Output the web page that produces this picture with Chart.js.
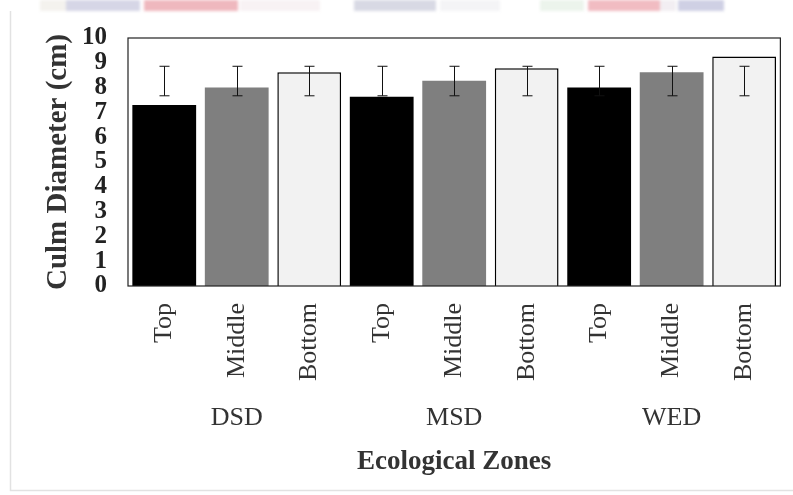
<!DOCTYPE html>
<html>
<head>
<meta charset="utf-8">
<script src="https://cdn.jsdelivr.net/npm/chart.js@4/dist/chart.umd.min.js"></script>
<style>
  html, body { margin: 0; padding: 0; background: #fff; }
  #wrap { position: relative; width: 793px; height: 495px; overflow: hidden; }
  #strip { position: absolute; left: 0; top: 0; width: 793px; height: 11px; filter: blur(1.5px); }
  #strip div { position: absolute; top: 0; height: 11px; }
  canvas { position: absolute; left: 0; top: 0; }
</style>
</head>
<body>
<div id="wrap">
  <div id="strip">
    <div style="left:40px;width:26px;background:#f4f2ee"></div>
    <div style="left:66px;width:74px;background:#d6d6e6"></div>
    <div style="left:144px;width:94px;background:#efb8be"></div>
    <div style="left:240px;width:80px;background:#f8f2f4"></div>
    <div style="left:354px;width:82px;background:#d8d9e4"></div>
    <div style="left:440px;width:60px;background:#f4f4f6"></div>
    <div style="left:540px;width:44px;background:#ecf4ec"></div>
    <div style="left:588px;width:72px;background:#f1bcc2"></div>
    <div style="left:660px;width:16px;background:#f2eef2"></div>
    <div style="left:678px;width:46px;background:#cfd0e4"></div>
  </div>
  <canvas id="chart" width="793" height="495"></canvas>
</div>
<script>
// Culm diameter by position on the culm, across three ecological zones
const positions = ['Top', 'Middle', 'Bottom'];
const zones = ['DSD', 'MSD', 'WED'];
const categories = ['Top', 'Middle', 'Bottom', 'Top', 'Middle', 'Bottom', 'Top', 'Middle', 'Bottom'];
const diameter = [7.3, 8.0, 8.62, 7.63, 8.28, 8.78, 8.0, 8.62, 9.25];
const errorLower = [7.67, 7.67, 7.67, 7.67, 7.67, 7.67, 7.67, 7.67, 7.67];
const errorUpper = [8.86, 8.86, 8.86, 8.86, 8.86, 8.86, 8.86, 8.86, 8.86];
const yTicks = [0, 1, 2, 3, 4, 5, 6, 7, 8, 9, 10];

const fillByPosition = { Top: '#000000', Middle: '#7f7f7f', Bottom: '#f2f2f2' };
const serif = '"Liberation Serif", "Times New Roman", serif';

const frame = {
  id: 'frame',
  beforeDraw(chart) {
    const ctx = chart.ctx;
    ctx.save();
    ctx.strokeStyle = '#e2e2e2';
    ctx.lineWidth = 1.5;
    ctx.beginPath();
    ctx.moveTo(10.5, 11);
    ctx.lineTo(10.5, 490.5);
    ctx.lineTo(793, 490.5);
    ctx.stroke();
    ctx.restore();
  },
  afterDatasetsDraw(chart) {
    const ctx = chart.ctx;
    const x = chart.scales.x, y = chart.scales.y;
    const a = chart.chartArea;
    ctx.save();
    // error bars
    ctx.strokeStyle = '#111';
    ctx.lineWidth = 1;
    const meta = chart.getDatasetMeta(0);
    meta.data.forEach((bar, i) => {
      const cx = Math.round(bar.x) + 0.5;
      const yl = y.getPixelForValue(errorLower[i]);
      const yh = y.getPixelForValue(errorUpper[i]);
      ctx.beginPath();
      ctx.moveTo(cx, yl); ctx.lineTo(cx, yh);
      ctx.moveTo(cx - 5, yl); ctx.lineTo(cx + 5, yl);
      ctx.moveTo(cx - 5, yh); ctx.lineTo(cx + 5, yh);
      ctx.stroke();
    });
    // plot frame
    ctx.strokeStyle = '#222';
    ctx.lineWidth = 1.2;
    ctx.strokeRect(a.left, a.top, a.right - a.left, a.bottom - a.top);
    // zone labels under each group of three bars
    ctx.fillStyle = '#333';
    ctx.font = '26px ' + serif;
    ctx.textAlign = 'center';
    ctx.textBaseline = 'middle';
    zones.forEach((z, g) => {
      ctx.fillText(z, x.getPixelForValue(g * positions.length + 1), 418);
    });
    ctx.restore();
  }
};

new Chart(document.getElementById('chart'), {
  type: 'bar',
  data: {
    labels: categories,
    datasets: [{
      data: diameter,
      backgroundColor: ctx => fillByPosition[categories[ctx.dataIndex]],
      borderColor: '#000',
      borderWidth: ctx => categories[ctx.dataIndex] === 'Bottom' ? 1.5 : 0,
      borderSkipped: 'bottom',
      barPercentage: 0.88,
      categoryPercentage: 1.0
    }]
  },
  options: {
    responsive: false,
    animation: false,
    devicePixelRatio: 1,
    layout: { padding: { top: 38, right: 12, left: 0, bottom: 0 } },
    plugins: { legend: { display: false }, tooltip: { enabled: false } },
    scales: {
      x: {
        grid: { display: false, drawTicks: false },
        border: { display: false },
        ticks: {
          color: '#333',
          font: { family: serif, size: 26 },
          minRotation: 90,
          maxRotation: 90,
          padding: 17,
          autoSkip: false
        },
        title: {
          display: true,
          text: 'Ecological Zones',
          color: '#333',
          font: { family: serif, size: 27, weight: 'bold' },
          padding: { top: 0, bottom: 17 }
        },
        afterFit(scale) { scale.height = 209; }
      },
      y: {
        min: 0,
        max: 10,
        afterBuildTicks(scale) { scale.ticks = yTicks.map(v => ({ value: v })); },
        grid: { display: false, drawTicks: false },
        border: { display: false },
        ticks: {
          color: '#222',
          font: { family: serif, size: 25, weight: 'bold', lineHeight: 1 },
          padding: 21,
          autoSkip: false
        },
        title: {
          display: true,
          text: 'Culm Diameter (cm)',
          color: '#333',
          font: { family: serif, size: 29, weight: 'bold' },
          padding: { top: 41, bottom: 0 }
        },
        afterFit(scale) { scale.width = 128; }
      }
    }
  },
  plugins: [frame]
});
</script>
</body>
</html>
